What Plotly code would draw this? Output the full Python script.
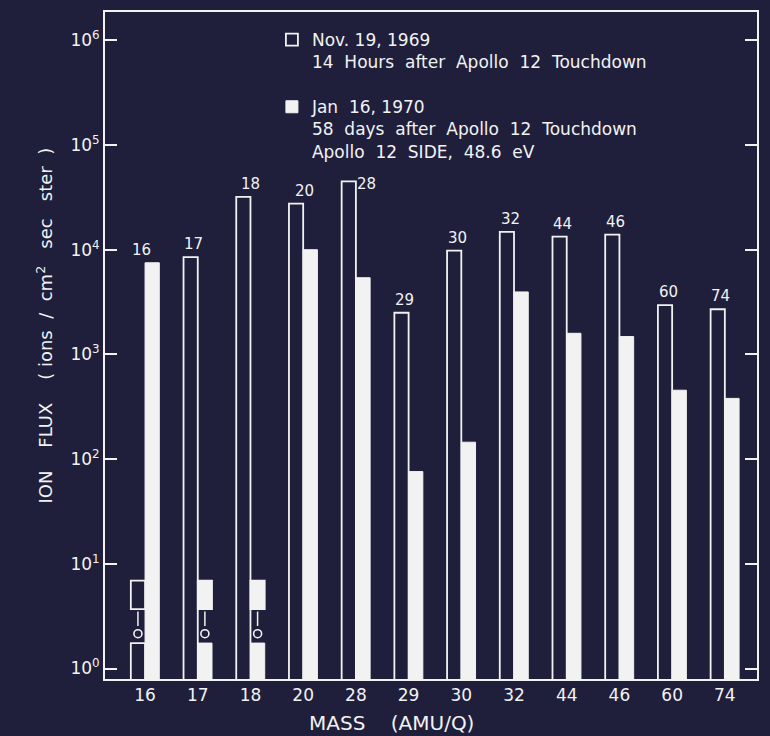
import math
import plotly.graph_objects as go

# ---------------- data ----------------
masses = ["16", "17", "18", "20", "28", "29", "30", "32", "44", "46", "60", "74"]
nov_1969_flux = [1.75, 8500, 32000, 27500, 45000, 2500, 9800, 14800, 13300, 13900, 2950, 2700]
jan_1970_flux = [7500, 1.75, 1.75, 10000, 5400, 76, 145, 3950, 1590, 1480, 455, 380]

# broken (limit) bars: mass, series, segment bottom, segment top, circle value
limit_masses = ["16", "17", "18"]
limit_series = ["nov", "jan", "jan"]
limit_seg_low = [3.7, 3.7, 3.7]
limit_seg_high = [6.9, 6.9, 6.9]
limit_circle = [2.15, 2.15, 2.15]
limit_dash_low = [2.55, 2.55, 2.55]
limit_dash_high = [3.5, 3.5, 3.5]

y_tick_vals = [1, 10, 100, 1000, 10000, 100000, 1000000]
y_tick_text = ["10<sup>0</sup>", "10<sup>1</sup>", "10<sup>2</sup>", "10<sup>3</sup>",
               "10<sup>4</sup>", "10<sup>5</sup>", "10<sup>6</sup>"]

nov_name = "Nov. 19, 1969<br>14  Hours  after  Apollo  12  Touchdown"
jan_name = "Jan  16, 1970<br>58  days  after  Apollo  12  Touchdown<br>Apollo  12  SIDE,  48.6  eV"

# ---------------- style ----------------
BG = "#1f1f3c"
FG = "#f2f2f2"
FONT = "DejaVu Sans"
BAR_W = 0.27
OFFSETS = {"nov": -BAR_W, "jan": 0.0}

idx = list(range(len(masses)))
pos = {m: i for i, m in enumerate(masses)}

fig = go.Figure()

fig.add_trace(go.Bar(
    x=idx, y=nov_1969_flux, width=BAR_W, offset=OFFSETS["nov"],
    marker=dict(color=BG, line=dict(color=FG, width=1.8)),
    name=nov_name, showlegend=True, legendgroup="nov",
))
fig.add_trace(go.Bar(
    x=idx, y=jan_1970_flux, width=BAR_W, offset=OFFSETS["jan"],
    marker=dict(color=FG, line=dict(color=FG, width=1)),
    name=jan_name, showlegend=True, legendgroup="jan",
))

# upper segments of the broken bars
for s in ["nov", "jan"]:
    xs, bases, hs = [], [], []
    for m, ser, lo, hi in zip(limit_masses, limit_series, limit_seg_low, limit_seg_high):
        if ser == s:
            xs.append(pos[m]); bases.append(lo); hs.append(hi - lo)
    if xs:
        fig.add_trace(go.Bar(
            x=xs, y=hs, base=bases, width=BAR_W, offset=OFFSETS[s],
            marker=dict(color=BG if s == "nov" else FG, line=dict(color=FG, width=1.8)),
            showlegend=False, hoverinfo="skip", legendgroup=s,
        ))

# dash + circle between segments
dx, dy, cx, cy = [], [], [], []
for m, ser, c, dl, dh in zip(limit_masses, limit_series, limit_circle, limit_dash_low, limit_dash_high):
    xc = pos[m] + OFFSETS[ser] + BAR_W / 2
    dx += [xc, xc, None]; dy += [dl, dh, None]
    cx.append(xc); cy.append(c)
fig.add_trace(go.Scatter(x=dx, y=dy, mode="lines", line=dict(color=FG, width=1.5),
                         showlegend=False, hoverinfo="skip"))
fig.add_trace(go.Scatter(x=cx, y=cy, mode="markers",
                         marker=dict(symbol="circle-open", size=8, color=FG, line=dict(width=1.6)),
                         showlegend=False, hoverinfo="skip"))

# mass labels above bars (annotation y on a log axis is given in log10 units)
label_shift = {m: (-4, 2) for m in masses}
label_shift["18"] = (0, 2)
label_shift["20"] = (1, 2)
label_shift["28"] = (11, -14)
for m, a, b in zip(masses, nov_1969_flux, jan_1970_flux):
    xs_, ys_ = label_shift[m]
    fig.add_annotation(x=pos[m], y=math.log10(max(a, b)), yref="y", xref="x", text=m,
                       showarrow=False, xshift=xs_, yshift=ys_, yanchor="bottom",
                       font=dict(size=15, color=FG, family=FONT))

# axis titles
fig.add_annotation(x=-0.092, y=0.53, xref="paper", yref="paper", textangle=-90,
                   xanchor="center", yanchor="middle",
                   text="ION    FLUX    ( ions  /  cm<sup>2</sup>   sec   ster  )", showarrow=False,
                   font=dict(size=18, color=FG, family=FONT))
fig.add_annotation(x=0.44, y=-0.066, xref="paper", yref="paper",
                   xanchor="center", yanchor="middle",
                   text="MASS    (AMU/Q)", showarrow=False,
                   font=dict(size=20, color=FG, family=FONT))

fig.update_layout(
    width=770, height=736,
    paper_bgcolor=BG, plot_bgcolor=BG,
    margin=dict(l=105, r=13, t=10, b=57),
    barmode="overlay",
    font=dict(family=FONT, color=FG, size=15),
    legend=dict(x=0.256, y=0.985, xanchor="left", yanchor="top",
                bgcolor="rgba(0,0,0,0)", font=dict(size=17, color=FG, family=FONT),
                valign="top", tracegroupgap=20, traceorder="grouped"),
    xaxis=dict(range=[-0.76, 11.61], tickvals=idx, ticktext=masses, showgrid=False,
               zeroline=False, showline=True, linecolor=FG, linewidth=2, mirror=True,
               ticks="", tickfont=dict(size=17, color=FG, family=FONT)),
    yaxis=dict(type="log", range=[-0.1, 6.27], tickvals=y_tick_vals, ticktext=y_tick_text,
               showgrid=False, zeroline=False, showline=True, linecolor=FG, linewidth=2,
               mirror="ticks", ticks="inside", ticklen=12, tickwidth=2, tickcolor=FG,
               tickfont=dict(size=17, color=FG, family=FONT)),
)

fig.write_html(
    "out.html",
    config={"displayModeBar": False},
    post_script="document.body.style.margin='0';document.body.style.backgroundColor='" + BG + "';",
)
